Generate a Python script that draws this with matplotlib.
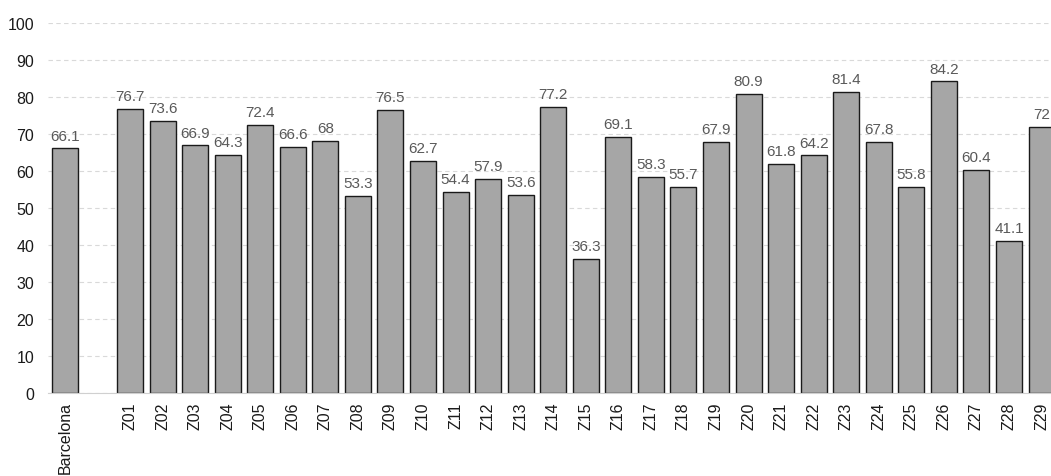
import matplotlib
matplotlib.use('Agg')
import numpy as np
import matplotlib.pyplot as plt

plt.rcParams['font.family'] = ['Liberation Sans', 'DejaVu Sans']

# data (empty slot after Barcelona)
categories = ['Barcelona', ''] + ['Z%02d' % i for i in range(1, 30)]
values = [66.1, None,
          76.7, 73.6, 66.9, 64.3, 72.4, 66.6, 68, 53.3, 76.5, 62.7,
          54.4, 57.9, 53.6, 77.2, 36.3, 69.1, 58.3, 55.7, 67.9, 80.9,
          61.8, 64.2, 81.4, 67.8, 55.8, 84.2, 60.4, 41.1, 72]
yticks = list(range(0, 101, 10))

fig = plt.figure(figsize=(10.51, 4.77), dpi=100)
ax = fig.add_axes([48/1051, 1 - 394/477, 1 - 48/1051, (394 - 24)/477])

x = np.arange(len(categories))
for xi, v in zip(x, values):
    if v is None:
        continue
    ax.bar(xi, v, width=0.8, color='#a6a6a6', edgecolor='#1a1a1a', linewidth=1, zorder=3)
    ax.text(xi, v + 1.6, ('%g' % v), ha='center', va='bottom', fontsize=11,
            color='#595959', zorder=4)

ax.set_xlim(-0.52, 30.29)
ax.set_ylim(0, 100)
ax.set_yticks(yticks)
ax.set_xticks(x)
ax.set_xticklabels(categories, rotation=90, fontsize=11.5, color='#1a1a1a', va='top')
ax.tick_params(axis='both', length=0)
ax.tick_params(axis='y', pad=10, labelsize=11.5, labelcolor='#1a1a1a')
ax.tick_params(axis='x', pad=6)
ax.grid(axis='y', linestyle=(0, (4, 3)), color='#d9d9d9', linewidth=0.8, zorder=0)
for s in ['top', 'right', 'left']:
    ax.spines[s].set_visible(False)
ax.spines['bottom'].set_color('#d0d0d0')
ax.spines['bottom'].set_zorder(5)

fig.savefig('out.png', dpi=100)
